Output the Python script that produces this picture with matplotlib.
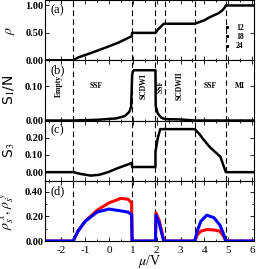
import numpy as np
import matplotlib.pyplot as plt
from matplotlib.lines import Line2D
from matplotlib.ticker import MultipleLocator

plt.rcParams['font.family'] = 'Liberation Serif'
plt.rcParams['mathtext.fontset'] = 'stix'

# phase boundaries (mu/V)
bounds = [-1.5, 0.97, 1.95, 2.35, 3.6, 4.9]

# (a) density
mu_a = [-2.7, -1.5, -1.3, -0.9, -0.33, 0.39, 0.96, 0.97, 1.95, 2.05, 2.3, 3.6,
        4.0, 4.2, 4.45, 4.6, 4.75, 4.85, 4.9, 6.1]
rho = [0, 0, 0.05, 0.11, 0.2, 0.32, 0.44, 0.5, 0.5, 0.56, 0.667, 0.667,
       0.73, 0.78, 0.83, 0.86, 0.91, 0.96, 1.0, 1.0]

# (b) structure factor S1/N
mu_b = [-2.7, -1.5, -0.5, 0.3, 0.67, 0.85, 0.93, 0.97, 1.0, 1.05, 1.95, 1.96,
        2.05, 2.2, 2.35, 3.0, 3.6, 6.1]
s1 = [0, 0, 0.002, 0.006, 0.013, 0.025, 0.04, 0.13, 0.143, 0.146, 0.146,
      0.042, 0.02, 0.008, 0.004, 0.003, 0.0, 0]

# (c) structure factor S3
mu_c = [-2.7, -1.5, -1.2, -0.76, -0.4, -0.04, 0.4, 0.8, 0.96, 0.97, 1.95, 1.95,
        2.05, 2.15, 3.6, 3.8, 3.96, 4.24, 4.67, 4.9, 6.1]
s3 = [0, 0, -0.01, -0.02, -0.015, 0.0, 0.025, 0.045, 0.054, 0.03, 0.03, 0.12,
      0.2, 0.25, 0.25, 0.22, 0.19, 0.144, 0.09, 0.0, 0]

# (d) superfluid stiffness
mu_d = [-2.7, -1.5, -1.4, -1.3, -1.0, -0.5, 0.0, 0.5, 0.8, 0.95, 0.97, 1.0,
        1.95, 1.97, 2.1, 2.2, 2.3, 3.6, 3.7, 3.85, 4.1, 4.4, 4.65, 4.8, 4.9, 6.1]
rho_x = [0, 0, 0.04, 0.08, 0.16, 0.25, 0.31, 0.347, 0.34, 0.31, 0.0, 0.0,
         0.0, 0.23, 0.17, 0.09, 0.0, 0.0, 0.05, 0.08, 0.093, 0.09, 0.08, 0.04, 0.0, 0]
rho_y = [0, 0, 0.04, 0.08, 0.16, 0.235, 0.26, 0.245, 0.235, 0.215, 0.0, 0.0,
         0.0, 0.21, 0.15, 0.07, 0.0, 0.0, 0.08, 0.16, 0.21, 0.19, 0.13, 0.06, 0.0, 0]

phase_labels = ['Empty', 'SSF', 'SCDWI', 'SSF', 'SCDWII', 'SSF', 'MI']
phase_x = [-2.1, -0.55, 1.46, 2.15, 2.98, 4.25, 5.5]
phase_rot = [90, 0, 90, 90, 90, 0, 0]

fig, axes = plt.subplots(4, 1, sharex=True, figsize=(2.56, 2.69), dpi=100)
fig.subplots_adjust(left=0.174, right=0.994, top=1.0, bottom=0.104, hspace=0)

tick_font = dict(fontsize=7.5, fontweight='bold')

ax = axes[0]
ax.plot(mu_a, rho, color='k', lw=1.8)
ax.set_ylim(0, 1.1)
ax.set_yticks([0, 0.5, 1.0])
ax.set_yticklabels(['0.00', '0.50', '1.00'], **tick_font)
ax.set_ylabel(r'$\rho$', fontsize=10)
handles = [Line2D([], [], marker='s', ms=1.2, ls='none', color='k') for _ in range(3)]
ax.legend(handles, ['12', '18', '24'], loc='lower right', frameon=False,
          prop=dict(size=5.5, weight='bold'), handlelength=0.6, handletextpad=0.9,
          labelspacing=0.15, borderaxespad=0.6, bbox_to_anchor=(0.985, 0.04))

ax = axes[1]
ax.plot(mu_b, s1, color='k', lw=1.8)
ax.set_ylim(0, 0.175)
ax.set_yticks([0, 0.1])
ax.set_yticklabels(['0.00', '0.10'], **tick_font)
ax.set_ylabel(r'S$_1$/N', fontsize=10, family='DejaVu Sans')
for lab, x, r in zip(phase_labels, phase_x, phase_rot):
    ax.text(x, 0.1, lab, rotation=r, ha='center', va='center',
            fontsize=5.5, fontweight='bold')

ax = axes[2]
ax.plot(mu_c, s3, color='k', lw=1.8)
ax.set_ylim(-0.05, 0.3)
ax.set_yticks([0, 0.1, 0.2])
ax.set_yticklabels(['0.00', '0.10', '0.20'], **tick_font)
ax.set_ylabel(r'S$_3$', fontsize=10, family='DejaVu Sans')

ax = axes[3]
ax.plot(mu_d, rho_x, color='red', lw=2.2)
ax.plot(mu_d, rho_y, color='blue', lw=2.2)
ax.set_ylim(0, 0.49)
ax.set_yticks([0, 0.2, 0.4])
ax.set_yticklabels(['0.00', '0.20', '0.40'], **tick_font)
ax.yaxis.set_minor_locator(MultipleLocator(0.1))
ax.set_ylabel(r'$\rho_s^{\ x}, \rho_s^{\ y}$', fontsize=10)
ax.set_xlim(-2.7, 6.1)
ax.set_xticks(range(-2, 7))
ax.set_xticklabels([str(v) for v in range(-2, 7)], fontsize=8)
ax.xaxis.set_minor_locator(MultipleLocator(0.5))
ax.set_xlabel(r'$\mu$/V', fontsize=10, labelpad=-1)

for ax, tag in zip(axes, ['(a)', '(b)', '(c)', '(d)']):
    for b in bounds:
        ax.axvline(b, color='k', ls=(0, (5, 3)), lw=0.8, zorder=0)
    ax.text(0.03, 0.93, tag, transform=ax.transAxes, ha='left', va='top', fontsize=9)
    ax.tick_params(which='both', direction='in', right=True, top=True, length=3, width=0.6)
    ax.tick_params(which='minor', length=1.5)
    ax.tick_params(axis='y', pad=1)
    for s in ax.spines.values():
        s.set_linewidth(0.8)
    ax.yaxis.set_label_coords(-0.13, 0.5)

fig.savefig('out.png', dpi=100)
